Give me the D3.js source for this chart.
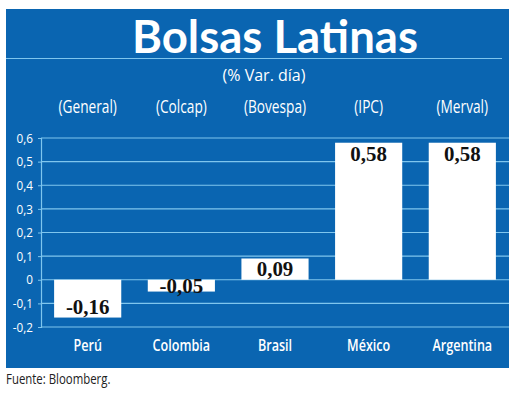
<!DOCTYPE html>
<html>
<head>
<meta charset="utf-8">
<script src="https://cdn.jsdelivr.net/npm/d3@7"></script>
<style>
  body { margin: 0; background: #fff; }
</style>
</head>
<body>
<div id="wrapper"></div>
<script>
// chart values
const countries = ["Perú", "Colombia", "Brasil", "México", "Argentina"];
const indexNames = ["(General)", "(Colcap)", "(Bovespa)", "(IPC)", "(Merval)"];
const changes = [-0.16, -0.05, 0.09, 0.58, 0.58];
const yTicks = [-0.2, -0.1, 0, 0.1, 0.2, 0.3, 0.4, 0.5, 0.6];

// squeeze text horizontally to mimic the condensed face of the original
function squeeze(selection, factor) {
  selection.each(function () {
    const w = this.getComputedTextLength();
    d3.select(this)
      .attr("textLength", w * factor)
      .attr("lengthAdjust", "spacingAndGlyphs");
  });
}

function drawChart() {
  const width = 520, height = 403;
  const blue = "#0a65b1";
  const gridColor = "#7fc6ee";
  const fmt = v => v === 0 ? "0" : d3.format(".1f")(v).replace(".", ",").replace("−", "-");
  const fmt2 = v => d3.format(".2f")(v).replace(".", ",").replace("−", "-");

  const panel = { left: 6, top: 9, right: 509, bottom: 368 };
  const plot = { left: 41, right: 509, top: 138, bottom: 327 };

  const svg = d3.select("#wrapper").append("svg")
    .attr("width", width)
    .attr("height", height);

  svg.append("rect")
    .attr("x", panel.left)
    .attr("y", panel.top)
    .attr("width", panel.right - panel.left)
    .attr("height", panel.bottom - panel.top)
    .attr("fill", blue);

  // title block
  svg.append("text")
    .attr("x", 275)
    .attr("y", 53)
    .attr("text-anchor", "middle")
    .attr("font-family", "Lato, 'Open Sans', sans-serif")
    .attr("font-weight", "bold")
    .attr("font-size", 46)
    .attr("textLength", 286)
    .attr("lengthAdjust", "spacingAndGlyphs")
    .attr("fill", "#fff")
    .text("Bolsas Latinas");

  svg.append("line")
    .attr("x1", panel.left).attr("x2", 502)
    .attr("y1", 58.5).attr("y2", 58.5)
    .attr("stroke", gridColor)
    .attr("stroke-width", 1.2);

  svg.append("text")
    .attr("x", 264)
    .attr("y", 81)
    .attr("text-anchor", "middle")
    .attr("font-family", "'Open Sans', sans-serif")
    .attr("font-size", 16)
    .attr("textLength", 83)
    .attr("lengthAdjust", "spacingAndGlyphs")
    .attr("fill", "#fff")
    .text("(% Var. día)");

  const xScale = d3.scaleBand()
    .domain(countries)
    .range([plot.left, plot.right])
    .paddingInner(0.283)
    .paddingOuter(0.14);

  const yScale = d3.scaleLinear()
    .domain([-0.2, 0.6])
    .range([plot.bottom, plot.top]);

  const labelFont = "'Open Sans', 'Liberation Sans', sans-serif";

  // index names above the plot
  svg.append("g")
    .selectAll("text")
    .data(indexNames)
    .join("text")
    .attr("x", (d, i) => xScale(countries[i]) + xScale.bandwidth() / 2)
    .attr("y", 113)
    .attr("text-anchor", "middle")
    .attr("font-family", labelFont)
    .attr("font-size", 19)
    .attr("fill", "#fff")
    .text(d => d)
    .call(squeeze, 0.72);

  // gridlines
  svg.append("g")
    .selectAll("line")
    .data(yTicks)
    .join("line")
    .attr("x1", plot.left)
    .attr("x2", plot.right)
    .attr("y1", d => yScale(d))
    .attr("y2", d => yScale(d))
    .attr("stroke", gridColor)
    .attr("stroke-width", 1.2);

  // y axis
  const yAxis = svg.append("g")
    .attr("transform", `translate(${plot.left},0)`)
    .call(d3.axisLeft(yScale).tickValues(yTicks).tickFormat(fmt).tickSize(3).tickPadding(5));
  yAxis.select(".domain").attr("stroke", gridColor).attr("stroke-width", 1.2);
  yAxis.selectAll(".tick line").attr("stroke", gridColor);
  yAxis.selectAll(".tick text")
    .attr("fill", "#fff")
    .attr("font-family", "'Open Sans', sans-serif")
    .attr("font-size", 13)
    .call(squeeze, 0.9);

  // bars
  svg.append("g")
    .selectAll("rect")
    .data(changes)
    .join("rect")
    .attr("x", (d, i) => xScale(countries[i]))
    .attr("width", xScale.bandwidth())
    .attr("y", d => yScale(Math.max(0, d)))
    .attr("height", d => Math.abs(yScale(d) - yScale(0)))
    .attr("fill", "#fff");

  // value labels
  svg.append("g")
    .selectAll("text")
    .data(changes)
    .join("text")
    .attr("x", (d, i) => xScale(countries[i]) + xScale.bandwidth() / 2)
    .attr("y", d => d >= 0 ? yScale(d) + 18 : Math.max(yScale(d) - 4, yScale(0) + 13))
    .attr("text-anchor", "middle")
    .attr("font-family", "'Liberation Serif', serif")
    .attr("font-weight", "bold")
    .attr("font-size", 22)
    .attr("fill", "#111")
    .text(fmt2)
    .call(squeeze, 0.95);

  // country names
  svg.append("g")
    .selectAll("text")
    .data(countries)
    .join("text")
    .attr("x", d => xScale(d) + xScale.bandwidth() / 2)
    .attr("y", 351)
    .attr("text-anchor", "middle")
    .attr("font-family", labelFont)
    .attr("font-weight", 600)
    .attr("font-size", 17)
    .attr("fill", "#fff")
    .text(d => d)
    .call(squeeze, 0.74);

  svg.append("text")
    .attr("x", 6)
    .attr("y", 384)
    .attr("font-family", labelFont)
    .attr("font-size", 15)
    .attr("fill", "#222")
    .text("Fuente: Bloomberg.")
    .call(squeeze, 0.76);
}

drawChart();
</script>
</body>
</html>
